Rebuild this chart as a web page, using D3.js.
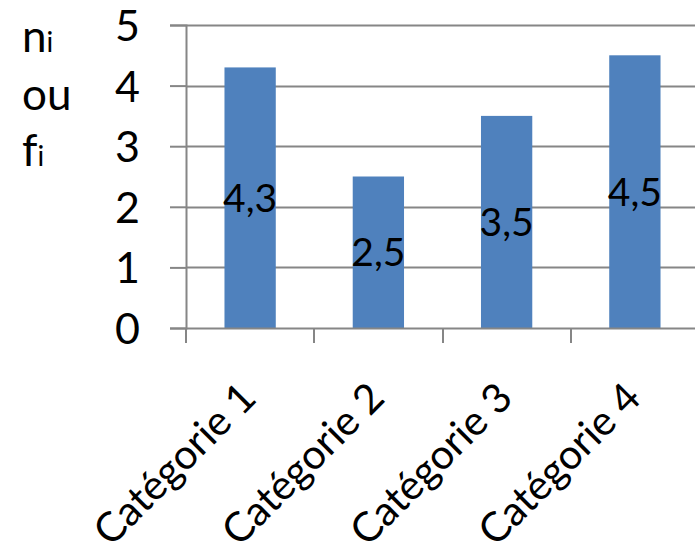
<!DOCTYPE html>
<html>
<head>
<meta charset="utf-8">
<script src="https://cdn.jsdelivr.net/npm/d3@7"></script>
<style>
  html, body { margin: 0; padding: 0; background: #fff; }
  svg { display: block; font-family: Lato, "Open Sans", sans-serif; }
</style>
</head>
<body>
<svg id="chart" width="695" height="560"></svg>
<script>
// Values per category
const categories = ["Catégorie 1", "Catégorie 2", "Catégorie 3", "Catégorie 4"];
const values = [4.3, 2.5, 3.5, 4.5];
const yTicks = [0, 1, 2, 3, 4, 5];
const valueLabels = ["4,3", "2,5", "3,5", "4,5"];

const svg = d3.select("#chart");
const plotLeft = 186, plotRight = 699, plotTop = 25, plotBottom = 328;
const gray = "#868686";
const barColor = "#4F81BD";

const x = d3.scaleBand().domain(categories).range([plotLeft, plotRight])
  .paddingInner(0.6).paddingOuter(0.3);
const y = d3.scaleLinear().domain([0, 5]).range([plotBottom, plotTop]);

// Horizontal gridlines
svg.append("g").selectAll("line").data(yTicks.filter(d => d > 0)).join("line")
  .attr("x1", plotLeft).attr("x2", plotRight)
  .attr("y1", d => Math.round(y(d)) + 0.5).attr("y2", d => Math.round(y(d)) + 0.5)
  .attr("stroke", gray).attr("stroke-width", 2);

// Bars
svg.append("g").selectAll("rect").data(values).join("rect")
  .attr("x", (d, i) => x(categories[i]))
  .attr("width", x.bandwidth())
  .attr("y", d => y(d))
  .attr("height", d => y(0) - y(d))
  .attr("fill", barColor);

// Y axis
const yAxis = svg.append("g").attr("transform", `translate(${plotLeft},0)`)
  .call(d3.axisLeft(y).tickValues(yTicks).tickSize(16).tickPadding(30).tickFormat(d3.format("d")));
yAxis.select(".domain").attr("stroke", gray).attr("stroke-width", 2);
yAxis.selectAll(".tick line").attr("stroke", gray).attr("stroke-width", 2);
yAxis.selectAll(".tick text").attr("font-size", 43).attr("fill", "#000")
  .attr("font-family", "Lato, sans-serif").attr("dy", "0.36em");

// X axis: baseline and category separators
const step = x.step();
const xAxis = svg.append("g");
xAxis.append("line").attr("x1", plotLeft).attr("x2", plotRight)
  .attr("y1", plotBottom + 0.5).attr("y2", plotBottom + 0.5)
  .attr("stroke", gray).attr("stroke-width", 2);
const bounds = d3.range(categories.length + 1).map(i => plotLeft + i * step);
xAxis.selectAll("line.sep").data(bounds).join("line").attr("class", "sep")
  .attr("x1", d => Math.round(d)).attr("x2", d => Math.round(d))
  .attr("y1", plotBottom).attr("y2", plotBottom + 15)
  .attr("stroke", gray).attr("stroke-width", 2);

// Category labels, rotated
xAxis.selectAll("text").data(categories).join("text")
  .attr("transform", d => `translate(${x(d) + x.bandwidth() / 2 - 12},${plotBottom + 52}) rotate(-45)`)
  .attr("text-anchor", "end")
  .attr("dy", "0.7em")
  .attr("font-size", 41)
  .attr("fill", "#000")
  .text(d => d);

// Value labels centred in the bars
svg.append("g").selectAll("text").data(values).join("text")
  .attr("x", (d, i) => x(categories[i]) + x.bandwidth() / 2)
  .attr("y", d => (y(d) + y(0)) / 2)
  .attr("dy", "0.36em")
  .attr("text-anchor", "middle")
  .attr("font-size", 39)
  .attr("fill", "#000")
  .text((d, i) => valueLabels[i]);

// Axis title: n_i ou f_i
const title = svg.append("g").attr("font-size", 44).attr("fill", "#000");
const t1 = title.append("text").attr("x", 22).attr("y", 52);
t1.append("tspan").text("n");
t1.append("tspan").attr("font-size", 28).text("i");
title.append("text").attr("x", 22).attr("y", 110).text("ou");
const t3 = title.append("text").attr("x", 22).attr("y", 166);
t3.append("tspan").text("f");
t3.append("tspan").attr("font-size", 28).text("i");
</script>
</body>
</html>
